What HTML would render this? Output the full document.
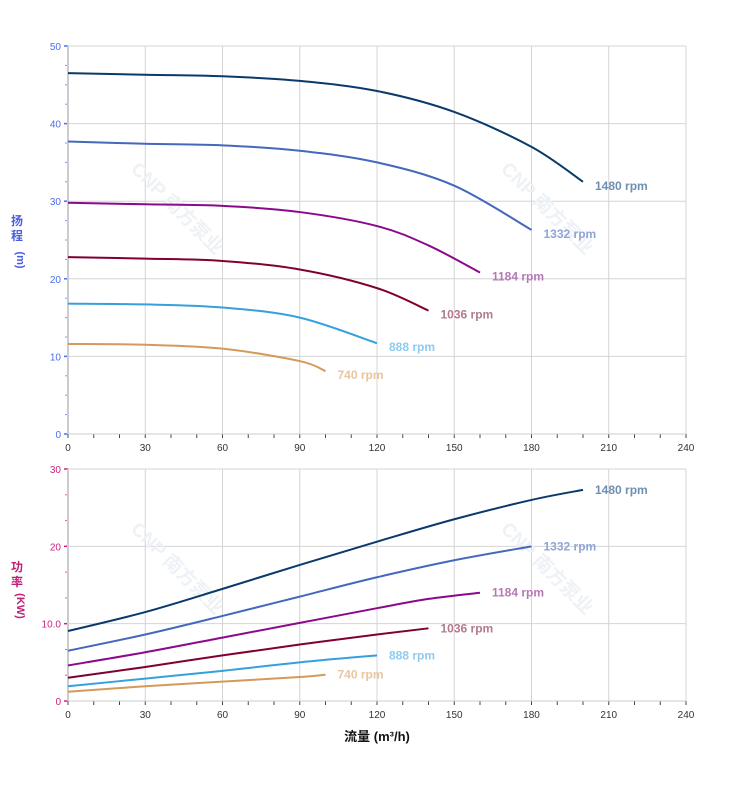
<!DOCTYPE html>
<html><head><meta charset="utf-8"><style>
body{margin:0;background:#fff;}
svg text{font-family:"Liberation Sans","Noto Sans CJK SC",sans-serif;}
</style></head><body>
<svg id="c" width="752" height="797" xmlns="http://www.w3.org/2000/svg"></svg>
<script>
const flowTicks=[0,30,60,90,120,150,180,210,240];
const headTicks=[0,10,20,30,40,50];
const powerTicks=[0,10,20,30];
const powerTickLabels=["0","10.0","20","30"];
const speeds=["1480 rpm","1332 rpm","1184 rpm","1036 rpm","888 rpm","740 rpm"];
const colors=["#0a3a6a","#4468bb","#8a0a8a","#800034","#36a0de","#d39a5c"];
const labelColors=["#6f8fb0","#8fa5d8","#b777b7","#b37a90","#8ecbf0","#e8c6a2"];
const flows=[
 [0,30,60,90,120,150,180,200],
 [0,30,60,90,120,150,180],
 [0,30,60,90,120,140,160],
 [0,30,60,90,120,140],
 [0,30,60,90,120],
 [0,30,60,90,100]];
const heads=[
 [46.5,46.3,46.1,45.5,44.2,41.5,37,32.5],
 [37.7,37.4,37.2,36.5,35,32,26.3],
 [29.8,29.6,29.4,28.6,26.8,24.3,20.8],
 [22.8,22.6,22.3,21.2,18.8,15.9],
 [16.8,16.7,16.3,15,11.7],
 [11.6,11.5,11,9.4,8.1]];
const powers=[
 [9.05,11.5,14.5,17.6,20.6,23.5,26,27.3],
 [6.5,8.6,11,13.5,16,18.2,20],
 [4.6,6.3,8.2,10.1,12,13.2,14],
 [3,4.4,5.9,7.3,8.6,9.4],
 [1.9,2.9,3.9,5,5.9],
 [1.2,1.9,2.5,3.1,3.4]];
const NS="http://www.w3.org/2000/svg";
const svg=document.getElementById('c');
function mk(t,a,p){const e=document.createElementNS(NS,t);for(const k in a)e.setAttribute(k,a[k]);(p||svg).appendChild(e);return e;}
const X0=68,X1=686;
const xs=v=>X0+(v-0)/240*(X1-X0);
const yH=v=>434-v/50*388;
const yP=v=>701-v/30*232;
function path(px,py){let d=`M${px[0]},${py[0]}`;for(let i=0;i<px.length-1;i++){const p0=i?i-1:i,p3=i+2<px.length?i+2:i+1;
const c1x=px[i]+(px[i+1]-px[p0])/6,c1y=py[i]+(py[i+1]-py[p0])/6,c2x=px[i+1]-(px[p3]-px[i])/6,c2y=py[i+1]-(py[p3]-py[i])/6;
d+=` C${c1x},${c1y} ${c2x},${c2y} ${px[i+1]},${py[i+1]}`;}return d;}
function panel(yf,ticks,tlabels,top,bot,axColor,name,minor){
 const g=mk('g',{});
 flowTicks.forEach(v=>{const l=mk('line',{x1:xs(v),x2:xs(v),y1:top,y2:bot,stroke:'#d4d4d4'},g);
  const t=mk('text',{x:xs(v),y:bot+17,'text-anchor':'middle','font-size':10,fill:'#333'},g);t.textContent=v;});
 for(let v=0;v<=240;v+=10){mk('line',{x1:xs(v),x2:xs(v),y1:bot,y2:bot+4,stroke:'#444'},g);}
 ticks.forEach((v,i)=>{const y=yf(v);if(v>0){const l=mk('line',{x1:X0,x2:X1,y1:y,y2:y,stroke:'#d4d4d4'},g);}
  mk('line',{x1:X0-4,x2:X0,y1:y,y2:y,stroke:axColor,'stroke-width':1.5},g);
  const t=mk('text',{x:X0-7,y:y+4,'text-anchor':'end','font-size':10,fill:axColor},g);t.textContent=tlabels[i];});
 for(let v=0;v<=ticks[ticks.length-1];v+=minor){mk('line',{x1:X0-3,x2:X0,y1:yf(v),y2:yf(v),stroke:axColor,'stroke-opacity':0.7},g);}
 mk('line',{x1:X0,x2:X0,y1:top,y2:bot,stroke:'#ccc','stroke-width':2},g);
 mk('line',{x1:X0,x2:X1,y1:bot,y2:bot,stroke:'#ccc'},g);
 return g;}
panel(yH,headTicks,headTicks.map(String),46,434,'#4a6ee8','head',2.5);
panel(yP,powerTicks,powerTickLabels,469,701,'#d0207f','power',3.3333);
[[130,170],[500,170],[130,530],[500,530]].forEach(([x,y])=>{const t=mk('text',{x:x,y:y,'font-size':19,'font-weight':'bold',fill:'#eef2f6',transform:`rotate(45 ${x} ${y})`});t.textContent='CNP 南方泵业';});
speeds.forEach((s,i)=>{
 const px=flows[i].map(xs);
 const ph=mk('path',{d:path(px,heads[i].map(yH)),fill:'none',stroke:colors[i],'stroke-width':2});
 
 const pp=mk('path',{d:path(px,powers[i].map(yP)),fill:'none',stroke:colors[i],'stroke-width':2});
 
 const n=px.length-1;
 const t1=mk('text',{x:px[n]+12,y:yH(heads[i][n])+8,'font-size':12,'font-weight':'bold',fill:labelColors[i]});t1.textContent=s;
 
 const t2=mk('text',{x:px[n]+12,y:yP(powers[i][n])+4,'font-size':12,'font-weight':'bold',fill:labelColors[i]});t2.textContent=s;
 
});
function vlabel(chars,x,y0,col,name){const g=mk('g',{});
 chars.forEach((c,i)=>{const t=mk('text',{x:x,y:y0+i*15,'font-size':12,'font-weight':'bold',fill:col,'text-anchor':'middle'},g);t.textContent=c;});}
vlabel(['扬','程'],17,225,'#4a5ee0','y-axis-title-head');
const m=mk('text',{x:17,y:260,'font-size':11,'font-weight':'bold',fill:'#4a5ee0','text-anchor':'middle',transform:'rotate(90 17 260)'});m.textContent='(m)';
vlabel(['功','率'],17,571,'#c0207a','y-axis-title-power');
const k=mk('text',{x:17,y:606,'font-size':11,'font-weight':'bold',fill:'#c0207a','text-anchor':'middle',transform:'rotate(90 17 606)'});k.textContent='(KW)';
const xt=mk('text',{x:377,y:741,'font-size':13,'font-weight':'bold',fill:'#111','text-anchor':'middle'});xt.textContent='流量 (m³/h)';
</script>
</body></html>
